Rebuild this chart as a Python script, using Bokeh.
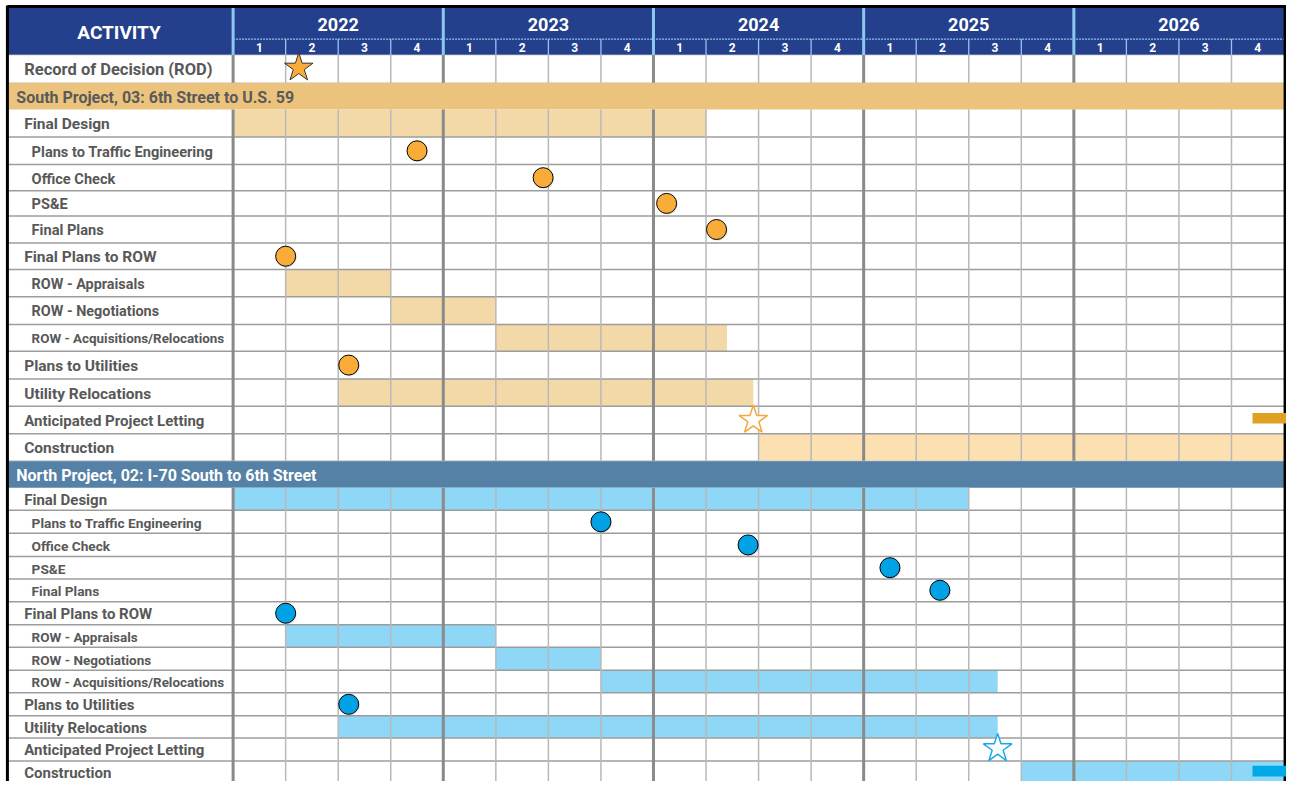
from bokeh.plotting import figure
from bokeh.models import Range1d
from bokeh.embed import file_html
from bokeh.resources import INLINE
from bokeh.core.properties import value

# ---------------- data ----------------
years = [2022, 2023, 2024, 2025, 2026]
quarter_labels = ["1", "2", "3", "4"]

header_label = "ACTIVITY"
rod_label = "Record of Decision (ROD)"
rod_q = 1.25  # quarters since start of 2022

south_title = "South Project, 03: 6th Street to U.S. 59"
north_title = "North Project, 02: I-70 South to 6th Street"

activities = ["Final Design", "Plans to Traffic Engineering", "Office Check", "PS&E",
              "Final Plans", "Final Plans to ROW", "ROW - Appraisals", "ROW - Negotiations",
              "ROW - Acquisitions/Relocations", "Plans to Utilities", "Utility Relocations",
              "Anticipated Project Letting", "Construction"]
activity_level = [0, 1, 1, 1, 1, 0, 1, 1, 1, 0, 0, 0, 0]

# South project (quarters since Jan 2022)
south_bar_task = ["Final Design", "ROW - Appraisals", "ROW - Negotiations",
                  "ROW - Acquisitions/Relocations", "Utility Relocations"]
south_bar_start = [0, 1, 3, 5, 2]
south_bar_end = [9, 3, 5, 9.4, 9.9]
south_construction = [10, 20]
south_ms_task = ["Plans to Traffic Engineering", "Office Check", "PS&E", "Final Plans",
                 "Final Plans to ROW", "Plans to Utilities"]
south_ms_q = [3.5, 5.9, 8.25, 9.2, 1.0, 2.2]
south_letting_q = 9.9
south_flag = [19.4, 20.05]

# North project
north_bar_task = ["Final Design", "ROW - Appraisals", "ROW - Negotiations",
                  "ROW - Acquisitions/Relocations", "Utility Relocations"]
north_bar_start = [0, 1, 5, 7, 2]
north_bar_end = [14, 5, 7, 14.55, 14.55]
north_construction = [15, 20]
north_ms_task = ["Plans to Traffic Engineering", "Office Check", "PS&E", "Final Plans",
                 "Final Plans to ROW", "Plans to Utilities"]
north_ms_q = [7.0, 9.8, 12.5, 13.45, 1.0, 2.2]
north_letting_q = 14.55
north_flag = [19.4, 20.05]

# ---------------- layout (pixel geometry of the reference) ----------------
QW = 53.2
X0 = 235.5
def tx(px):
    return (px - X0) / QW

header_top, header_mid, header_bot = 7, 39, 55
rod_rows = [55, 83]
south_band = [83, 110]
south_rows = [110, 138, 165.7, 192.3, 217.7, 245, 271.7, 299.3, 327.3, 354.3, 382.3, 410, 437.7, 465]
north_band = [465, 492.3]
north_rows = [492.3, 515, 538.3, 561.7, 584.3, 607.3, 630.7, 653.3, 676.7, 699.3, 722.7, 745, 768.3, 791]
NQ = len(years) * 4

# label font sizes per row (style)
south_sizes = ["15.5px", "14.6px", "14.6px", "14.6px", "14.6px", "15.5px", "14.4px", "14.4px", "13.4px",
               "15.5px", "15.5px", "15px", "15.5px"]
north_sizes = ["15px", "13.7px", "13.7px", "13.7px", "13.7px", "15px", "13.5px", "13.5px", "13.4px",
               "15px", "15px", "15px", "15px"]

FONT = "Roboto"
NAVY = "#243f8c"
LIGHTBLUE = "#8cc8ee"
GRAY_TXT = "#585858"

p = figure(width=1286, height=781, output_backend="svg", toolbar_location=None,
           x_range=Range1d(tx(0), tx(1302)), y_range=Range1d(789, 0),
           min_border=0, outline_line_color=None, background_fill_color="white")
p.axis.visible = False
p.grid.visible = False

LEFT = tx(7)
RIGHT = NQ

# header
p.quad(left=[LEFT], right=[RIGHT + 0.05], top=[header_top], bottom=[header_bot], fill_color=NAVY, line_color=None)
# bands
p.quad(left=[LEFT], right=[RIGHT + 0.05], top=[south_band[0]], bottom=[south_band[1]], fill_color="#ecc37d", line_color=None)
p.quad(left=[LEFT], right=[RIGHT + 0.05], top=[north_band[0]], bottom=[north_band[1]], fill_color="#5681a6", line_color=None)

def row_of(task, rows):
    i = activities.index(task)
    return rows[i], rows[i + 1]

# bars
def draw_bars(tasks, starts, ends, rows, color):
    tops, bots = [], []
    for t in tasks:
        a, b = row_of(t, rows)
        tops.append(a); bots.append(b)
    p.quad(left=starts, right=ends, top=tops, bottom=bots, fill_color=color, line_color=None)

draw_bars(south_bar_task, south_bar_start, south_bar_end, south_rows, "#f3d9a8")
draw_bars(["Construction"], [south_construction[0]], [south_construction[1]], south_rows, "#fde0b2")
draw_bars(north_bar_task, north_bar_start, north_bar_end, north_rows, "#8fd7f6")
draw_bars(["Construction"], [north_construction[0]], [north_construction[1]], north_rows, "#8fd7f6")

# grid: horizontal lines
def hlines(ys, color, width, x0=LEFT, x1=RIGHT, dash="solid"):
    p.segment(x0=[x0] * len(ys), x1=[x1 + 0.05] * len(ys), y0=ys, y1=ys, line_color=color, line_width=width, line_dash=dash)

hlines(south_rows[1:-1], "#9c9c9c", 1.5)
hlines(north_rows[1:-1], "#9c9c9c", 1.5)
hlines([rod_rows[0]], "#c8c8c8", 1.5, dash="1 1")
hlines([south_band[0], north_band[0]], "#c8c8c8", 1.2, dash="1 1")

# vertical lines in body sections
sections = [rod_rows, [south_rows[0], south_rows[-1]], [north_rows[0], north_rows[-1]]]
qx = [q for q in range(1, NQ) if q % 4 != 0]
yx = [q for q in range(0, NQ) if q % 4 == 0]
for a, b in sections:
    p.segment(x0=qx, x1=qx, y0=[a] * len(qx), y1=[b] * len(qx), line_color="#b8b8b8", line_width=1.5)
    p.segment(x0=yx, x1=yx, y0=[a] * len(yx), y1=[b] * len(yx), line_color="#8a8a8a", line_width=3)

# header lines
qh = list(range(1, NQ))
p.segment(x0=qh, x1=qh, y0=[header_mid] * len(qh), y1=[header_bot] * len(qh), line_color=LIGHTBLUE, line_width=1.3)
p.segment(x0=yx, x1=yx, y0=[header_top] * len(yx), y1=[header_bot] * len(yx), line_color=LIGHTBLUE, line_width=3)
p.segment(x0=[0], x1=[RIGHT], y0=[header_mid], y1=[header_mid], line_color=LIGHTBLUE, line_width=1.3, line_dash="2 1")

# borders
p.segment(x0=[LEFT], x1=[LEFT], y0=[header_top - 2], y1=[791], line_color="black", line_width=3)
p.segment(x0=[RIGHT + 0.02], x1=[RIGHT + 0.02], y0=[header_top - 2], y1=[791], line_color="black", line_width=3)
p.segment(x0=[LEFT], x1=[RIGHT + 0.05], y0=[header_top - 1], y1=[header_top - 1], line_color="black", line_width=3)

# header texts
p.text(x=[tx(120)], y=[(header_top + header_bot) / 2 + 1], text=[header_label], text_color="white",
       text_font=value(FONT), text_font_style="bold", text_font_size=value("19px"),
       text_align="center", text_baseline="middle")
p.text(x=[4 * i + 2 for i in range(len(years))], y=[(header_top + header_mid) / 2 + 1] * len(years),
       text=[str(y) for y in years], text_color="white", text_font=value(FONT), text_font_style="bold",
       text_font_size=value("18px"), text_align="center", text_baseline="middle")
p.text(x=[q + 0.5 for q in range(NQ)], y=[(header_mid + header_bot) / 2 + 0.5] * NQ,
       text=[quarter_labels[q % 4] for q in range(NQ)], text_color="white", text_font=value(FONT),
       text_font_style="bold", text_font_size=value("12px"), text_align="center", text_baseline="middle")

# row labels
p.text(x=[tx(24)], y=[sum(rod_rows) / 2 + 1], text=[rod_label], text_color=GRAY_TXT, text_font=value(FONT),
       text_font_style="bold", text_font_size=value("16.5px"), text_baseline="middle")
p.text(x=[tx(16)], y=[sum(south_band) / 2 + 1], text=[south_title], text_color="#5a5a5a", text_font=value(FONT),
       text_font_style="bold", text_font_size=value("16px"), text_baseline="middle")
p.text(x=[tx(16)], y=[sum(north_band) / 2 + 1], text=[north_title], text_color="white", text_font=value(FONT),
       text_font_style="bold", text_font_size=value("16px"), text_baseline="middle")

def labels(rows, sizes):
    xs = [tx(24) if l == 0 else tx(31.5) for l in activity_level]
    ys = [(rows[i] + rows[i + 1]) / 2 + 1 for i in range(len(activities))]
    p.text(x=xs, y=ys, text=activities, text_color=GRAY_TXT, text_font=value(FONT), text_font_style="bold",
           text_font_size=sizes, text_baseline="middle")

labels(south_rows, south_sizes)
labels(north_rows, north_sizes)

# milestones
def milestones(tasks, qs, rows, color):
    ys = [sum(row_of(t, rows)) / 2 for t in tasks]
    p.scatter(x=[q + 0.02 for q in qs], y=[y + 1.2 for y in ys], size=20, marker="circle",
              fill_color="#000000", fill_alpha=0.12, line_color=None)
    p.scatter(x=qs, y=ys, size=20, marker="circle", fill_color=color, line_color="black", line_width=1)

milestones(south_ms_task, south_ms_q, south_rows, "#f9ac38")
milestones(north_ms_task, north_ms_q, north_rows, "#00a2e6")

# stars
p.scatter(x=[rod_q], y=[sum(rod_rows) / 2 - 1], size=30, marker="star", fill_color="#f9ac38",
          line_color="#333333", line_width=1)
ys = sum(row_of("Anticipated Project Letting", south_rows)) / 2
p.scatter(x=[south_letting_q], y=[ys], size=30, marker="star", fill_color="white",
          line_color="#f5a93a", line_width=1.5)
yn = sum(row_of("Anticipated Project Letting", north_rows)) / 2 - 1
p.scatter(x=[north_letting_q], y=[yn], size=30, marker="star", fill_color="white",
          line_color="#1aa8ea", line_width=1.5)

# small end flags
p.quad(left=[south_flag[0]], right=[south_flag[1]], top=[416.7], bottom=[427.3], fill_color="#e0a024", line_color=None)
p.quad(left=[north_flag[0]], right=[north_flag[1]], top=[773], bottom=[784], fill_color="#00aae8", line_color=None)

open("out.html", "w").write(file_html(p, INLINE))
